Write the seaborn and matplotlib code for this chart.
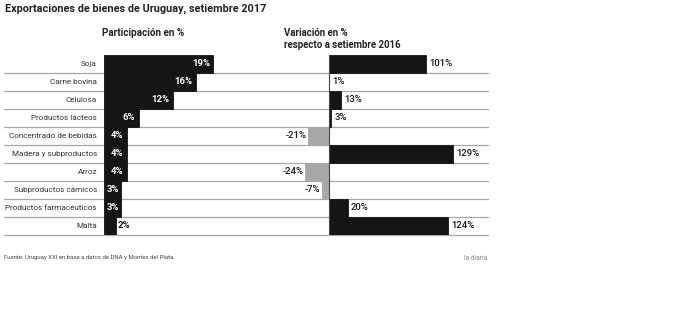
import matplotlib
matplotlib.use("Agg")
import matplotlib.pyplot as plt
import seaborn as sns
import pandas as pd
import numpy as np

categories = ["Soja", "Carne bovina", "Celulosa", "Productos lácteos",
              "Concentrado de bebidas", "Madera y subproductos", "Arroz",
              "Subproductos cárnicos", "Productos farmacéuticos", "Malta"]
share = [19, 16, 12, 6, 4, 4, 4, 3, 3, 2]
change = [101, 1, 13, 3, -21, 129, -24, -7, 20, 124]

title = "Exportaciones de bienes de Uruguay, setiembre 2017"
left_title = "Participación en %"
right_title = "Variación en %\nrespecto a setiembre 2016"
source = "Fuente: Uruguay XXI en base a datos de DNA y Montes del Plata."
brand = "la diaria"

sns.set_theme(style="white")
plt.rcParams['font.family'] = ['Roboto', 'DejaVu Sans']

BLACK = "#151515"
GREY = "#a8a8a8"
LINE = "#a9a9a9"

W, H = 700, 332
fig = plt.figure(figsize=(7, 3.32), dpi=100)
x0, x1 = 104, 488
y0, y1 = 55, 234.7
rect = [x0 / W, 1 - y1 / H, (x1 - x0) / W, (y1 - y0) / H]
axL = fig.add_axes(rect)
axR = fig.add_axes(rect)
axR.patch.set_alpha(0)

df = pd.DataFrame({"cat": categories, "share": share, "change": change})
df["sign"] = np.where(df["change"] >= 0, "pos", "neg")

sns.barplot(data=df, x="share", y="cat", ax=axL, color=BLACK, width=1.0,
            saturation=1, zorder=2)
sns.barplot(data=df, x="change", y="cat", hue="sign",
            palette={"pos": BLACK, "neg": GREY}, ax=axR, width=1.0,
            saturation=1, legend=False, dodge=False, zorder=2)

for ax in (axL, axR):
    for p in ax.patches:
        p.set_edgecolor(p.get_facecolor())
        p.set_linewidth(0.6)
    ax.set_ylim(len(categories) - 0.5, -0.5)
    for s in ax.spines.values():
        s.set_visible(False)
    ax.set_xlabel("")
    ax.set_ylabel("")
    ax.set_xticks([])

left_px = 5.76
right_px = 0.967
zero_px = 328.5
axL.set_xlim(0, (x1 - x0) / left_px)
axR.set_xlim(-(zero_px - x0) / right_px, (x1 - zero_px) / right_px)

axL.tick_params(axis="y", length=0, pad=5, labelsize=5.9, labelcolor="#333333")
axR.set_yticks([])

for i in range(len(categories)):
    axL.axhline(i + 0.5, xmin=-(x0 - 4) / (x1 - x0), xmax=1, color=LINE,
                lw=0.9, clip_on=False, zorder=0)

axR.axvline(0, color="#444444", lw=0.8, zorder=3)

for i, v in enumerate(share):
    if v >= 4:
        axL.text(v - 0.6, i, f"{v}%", ha="right", va="center", color="white",
                 fontsize=6.8, fontweight="bold")
    elif v == 3:
        axL.text(0.5, i, f"{v}%", ha="left", va="center", color="white",
                 fontsize=6.8, fontweight="bold")
    else:
        axL.text(v + 0.3, i, f"{v}%", ha="left", va="center", color=BLACK,
                 fontsize=6.8, fontweight="bold")

for i, v in enumerate(change):
    if v >= 0:
        axR.text(v + 3, i, f"{v}%", ha="left", va="center", color=BLACK,
                 fontsize=6.8, fontweight="medium")
    else:
        axR.text(v - 1.5, i, f"{v}%", ha="right", va="center", color=BLACK,
                 fontsize=6.8, fontweight="medium")

fig.text(5 / W, 1 - 9 / H, title, ha="left", va="center", fontsize=7.8,
         fontweight="bold", color="#222222")
fig.text(102 / W, 1 - 33 / H, left_title, ha="left", va="center", fontsize=7.1,
         fontweight="bold", color="#222222")
fig.text(284 / W, 1 - 39 / H, right_title, ha="left", va="center", fontsize=6.9,
         fontweight="bold", color="#222222", linespacing=1.35)
fig.text(4 / W, 1 - 258 / H, source, ha="left", va="center", fontsize=4.3,
         color="#444444")
fig.text(464 / W, 1 - 258 / H, brand, ha="left", va="center", fontsize=4.8,
         color="#888888")

fig.savefig("out.png", dpi=100)
